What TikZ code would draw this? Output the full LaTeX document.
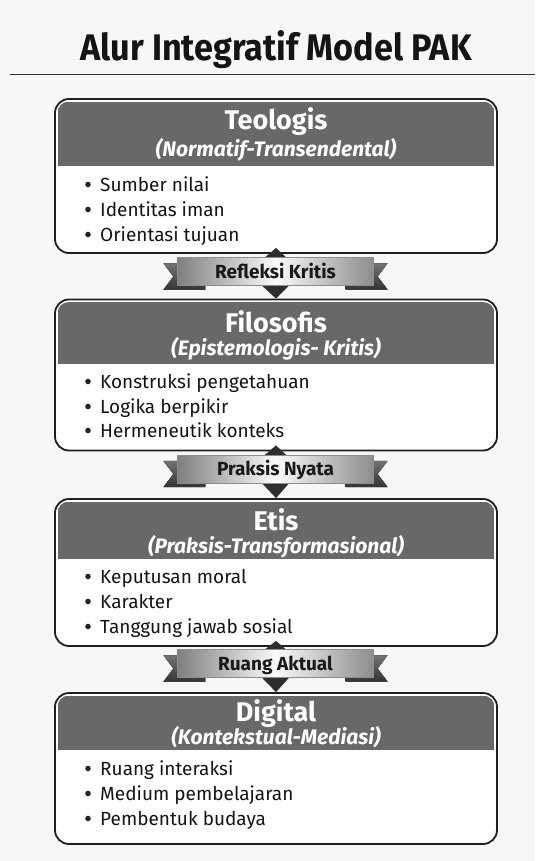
\documentclass[tikz,border=0pt]{standalone}
\usepackage{fontspec}
\setmainfont{Fira Sans}
\usetikzlibrary{calc}
\definecolor{bgc}{HTML}{F7F7F7}
\definecolor{hdrc}{HTML}{686868}
\definecolor{linec}{HTML}{1E1E1E}
\begin{document}
\begin{tikzpicture}[x=1pt,y=-1pt,
  boxst/.style={draw=linec,line width=1.8pt,fill=white,rounded corners=14pt,minimum width=442pt,inner sep=0pt},
  hdrtitle/.style={anchor=base,text=white,font=\fontsize{27}{29}\selectfont\bfseries},
  hdrsub/.style={anchor=base,text=white,font=\fontsize{21}{23}\selectfont\bfseries\itshape},
  bul/.style={anchor=base west,inner sep=0pt,text=black!92,font=\fontsize{19}{21}\selectfont},
  dot/.style={fill=black!85},
  ribbongeo/.style={minimum width=196pt,minimum height=28pt,inner sep=0pt,text height=13pt,text depth=0pt,
     font=\fontsize{19}{21}\selectfont\bfseries,text=black!90},
  ribbonst/.style={ribbongeo,draw=black!45,line width=0.4pt,left color=black!50,right color=black!45,middle color=black!2},
  tailst/.style={top color=black!55,bottom color=black!80,draw=none},
  tri/.style={fill=black!82,draw=none}]
\useasboundingbox (0,0) rectangle (535,861);
\fill[bgc] (0,0) rectangle (535,861);
% title
\node[anchor=base,inner sep=0pt,font=\fontsize{37}{40}\selectfont\bfseries,text=black!92] (title) at (276,61) {\scalebox{0.925}[1]{Alur Integratif Model PAK}};
\draw[line width=1pt,black!80] (10,75) coordinate (tl) -- (535,75) coordinate (tr);
% boxes
\node[boxst,minimum height=154pt] (b1) at (276,176) {};
\node[boxst,minimum height=151pt] (b2) at (276,375) {};
\node[boxst,minimum height=147pt] (b3) at (276,572.5) {};
\node[boxst,minimum height=151pt] (b4) at (276,768.5) {};
% headers
\foreach \b/\h in {b1/166,b2/364,b3/559,b4/750}{
  \begin{scope}
    \clip[rounded corners=11pt] ($(\b.north west)+(3.5,3.5)$) rectangle ($(\b.south east)+(-3.5,-3.5)$);
    \fill[hdrc] ($(\b.north west)+(3.5,3.5)$) rectangle ($(\b.east |- 0,\h)+(-3.5,0)$);
  \end{scope}
}
% header texts
\node[hdrtitle] (t1) at (276,130) {Teologis};
\node[hdrsub] (s1) at (276,157) {(Normatif-Transendental)};
\node[hdrtitle] (t2) at (276,332) {Filosofis};
\node[hdrsub] (s2) at (276,355) {(Epistemologis- Kritis)};
\node[hdrtitle] (t3) at (276,530) {Etis};
\node[hdrsub] (s3) at (276,553) {(Praksis-Transformasional)};
\node[hdrtitle] (t4) at (276,721) {Digital};
\node[hdrsub] (s4) at (276,744) {(Kontekstual-Mediasi)};
% bullets
\foreach \n/\y/\txt in {
  b1a/191/Sumber nilai, b1b/216/Identitas iman, b1c/241/Orientasi tujuan,
  b2a/388/Konstruksi pengetahuan, b2b/413/Logika berpikir, b2c/437/Hermeneutik konteks,
  b3a/583/Keputusan moral, b3b/608/Karakter, b3c/633/Tanggung jawab sosial,
  b4a/775/Ruang interaksi, b4b/800/Medium pembelajaran, b4c/825/Pembentuk budaya}{
  \fill[dot] (88,\y-6.5) circle (2.8pt);
  \node[bul] (\n) at (100,\y) {\txt};
}
% ribbons
\path (275.5,469) coordinate (r2c) (275.5,271.5) coordinate (r1c) (275.5,663.5) coordinate (r3c);
\foreach \r/\lab/\up/\dn in {r1/Refleksi Kritis/b1/b2, r2/Praksis Nyata/b2/b3, r3/Ruang Aktual/b3/b4}{
  \path (\r c) node[ribbongeo,text opacity=0] (\r) {\lab};
  % tails
  \fill[tailst] ($(\r.north west)+(-14,6)$) -- ($(\r.north west)+(28,6)$) -- ($(\r.south west)+(28,4)$) -- ($(\r.south west)+(-14,4)$) -- ($(\r.west)+(-4,5)$) -- cycle;
  \fill[tailst] ($(\r.north east)+(14,6)$) -- ($(\r.north east)+(-28,6)$) -- ($(\r.south east)+(-28,4)$) -- ($(\r.south east)+(14,4)$) -- ($(\r.east)+(4,5)$) -- cycle;
  % connector triangles
  \fill[tri] ($(\r.north)+(-11,0.5)$) -- ($(\up.south)+(0,-6)$) -- ($(\r.north)+(11,0.5)$) -- cycle;
  \fill[tri] ($(\r.south)+(-14,-0.5)$) -- ($(\r.south)+(14,-0.5)$) -- (\dn.north) -- cycle;
  \node[ribbonst] at (\r c) {\lab};
}
\end{tikzpicture}
\end{document}
